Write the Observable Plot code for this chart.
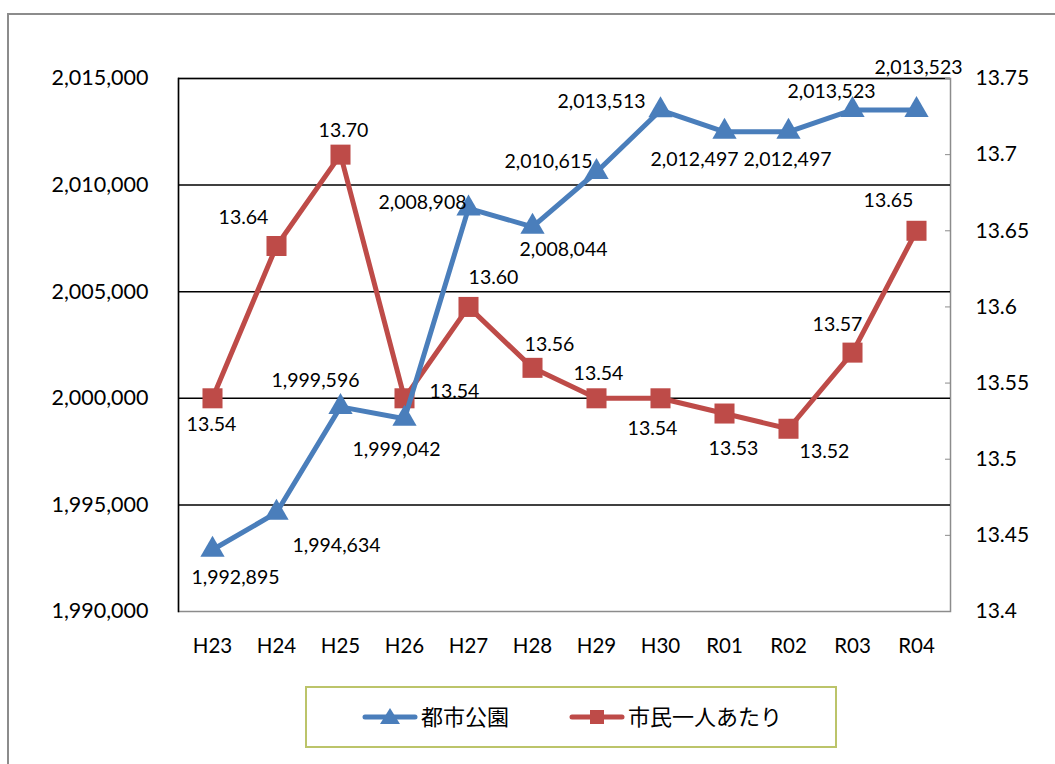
<!DOCTYPE html>
<html><head><meta charset="utf-8">
<script src="https://cdn.jsdelivr.net/npm/d3@7"></script>
<script src="https://cdn.jsdelivr.net/npm/@observablehq/plot@0.6"></script>
<style>
body{margin:0;background:#fff;}
#wrap{position:relative;width:1055px;height:764px;overflow:hidden;font-family:Lato,"Open Sans",sans-serif;}
#frame{position:absolute;left:7px;top:13px;width:1070px;height:780px;border:2px solid #8c8c8c;box-sizing:border-box;}
#chart{position:absolute;left:0;top:0;}
#legend{position:absolute;left:305px;top:686px;width:532px;height:62px;border:2px solid #bcc46a;box-sizing:border-box;background:#fff;}
#legend svg{position:absolute;left:0;top:0;}
</style></head><body>
<div id="wrap"><div id="frame"></div><div id="chart"></div><div id="legend"></div></div>
<script>
// ---- data ----
const years = ["H23","H24","H25","H26","H27","H28","H29","H30","R01","R02","R03","R04"];
const parkArea = [1992895,1994634,1999596,1999042,2008908,2008044,2010615,2013513,2012497,2012497,2013523,2013523];
const perCapita = [13.54,13.64,13.70,13.54,13.60,13.56,13.54,13.54,13.53,13.52,13.57,13.65];
const leftTicks = [1990000,1995000,2000000,2005000,2010000,2015000];
const rightTicks = [13.4,13.45,13.5,13.55,13.6,13.65,13.7,13.75];
const seriesNames = ["都市公園","市民一人あたり"];

// ---- style ----
const colors = ["#4a7ebb","#be4b48"];
const parkLabelOffset = [[23,28],[60,33],[-25,-26],[-8,31],[-46,-6],[31,23],[-48,-10],[-59,-8],[-30,28],[-1,28],[-21,-18],[2,-42]];
const capLabelOffset = [[-1,26],[-33,-28],[3,-24],[50,-7],[25,-29],[17,-23],[2,-25],[-8,30],[9,35],[36,23],[-15,-28],[-28,-30]];

const L0 = leftTicks[0], L1 = leftTicks[leftTicks.length-1];
const R0 = rightTicks[0], R1 = rightTicks[rightTicks.length-1];
const toLeft = v => L0 + (v - R0) / (R1 - R0) * (L1 - L0);
const fromLeft = y => R0 + (y - L0) / (L1 - L0) * (R1 - R0);

const rows = years.map((y,i)=>({year:y, park:parkArea[i], capL:toLeft(perCapita[i]), cap:perCapita[i]}));
const fmt = d3.format(",");

const labelMarks = [];
rows.forEach((r,i)=>{
  labelMarks.push(Plot.text([r],{x:"year",y:"park",text:d=>fmt(d.park),dx:parkLabelOffset[i][0],dy:parkLabelOffset[i][1],fontSize:19.5,fill:"#000"}));
  labelMarks.push(Plot.text([r],{x:"year",y:"capL",text:d=>d.cap.toFixed(2),dx:capLabelOffset[i][0],dy:capLabelOffset[i][1],fontSize:19.5,fill:"#000"}));
});

const chart = Plot.plot({
  width:1055, height:764,
  marginLeft:178, marginRight:105, marginTop:78, marginBottom:153,
  style:{background:"transparent", fontFamily:"Lato, 'Open Sans', sans-serif", fontSize:"19px", color:"#000"},
  x:{type:"point", domain:years, padding:0.5, align:0.5},
  y:{domain:[L0,L1]},
  marks:[
    Plot.frame({stroke:"#8c8c8c", strokeWidth:1.5}),
    Plot.ruleY(leftTicks.slice(1),{stroke:"#000", strokeWidth:1.5}),
    Plot.frame({anchor:"left", stroke:"#000", strokeWidth:1.5}),
    Plot.axisY(leftTicks,{anchor:"left", tickSize:0, tickPadding:30, tickFormat:fmt, fontSize:21.5, label:null}),
    Plot.axisY(rightTicks.map(toLeft),{anchor:"right", tickSize:-6, tickPadding:31, tickFormat:d=>String(+fromLeft(d).toFixed(2)), fontSize:21, label:null, stroke:"#8c8c8c"}),
    Plot.axisX({anchor:"bottom", tickSize:0, tickPadding:27, fontSize:20.5, label:null}),
    Plot.line(rows,{x:"year", y:"capL", stroke:colors[1], strokeWidth:5}),
    Plot.dot(rows,{x:"year", y:"capL", symbol:"square", r:11.3, fill:colors[1]}),
    Plot.line(rows,{x:"year", y:"park", stroke:colors[0], strokeWidth:5}),
    Plot.dot(rows,{x:"year", y:"park", symbol:"triangle", r:9, fill:colors[0]}),
    ...labelMarks
  ]
});
document.getElementById("chart").appendChild(chart);

// legend
const lg = d3.select("#legend").append("svg").attr("width",532).attr("height",62);
const items = [{x:58, name:seriesNames[0], color:colors[0], sym:"tri"},{x:265, name:seriesNames[1], color:colors[1], sym:"sq"}];
items.forEach(it=>{
  const g = lg.append("g").attr("transform",`translate(${it.x},29)`);
  g.append("line").attr("x1",0).attr("x2",50).attr("stroke",it.color).attr("stroke-width",5).attr("stroke-linecap","round");
  if(it.sym==="tri") g.append("path").attr("d","M25,-9L35,7L15,7Z").attr("fill",it.color);
  else g.append("rect").attr("x",18).attr("y",-7).attr("width",14).attr("height",14).attr("fill",it.color);
  g.append("text").attr("x",56).attr("y",0).attr("dy","0.36em").attr("font-family","'Noto Sans CJK JP', sans-serif").attr("font-size",22).text(it.name);
});
</script>
</body></html>
